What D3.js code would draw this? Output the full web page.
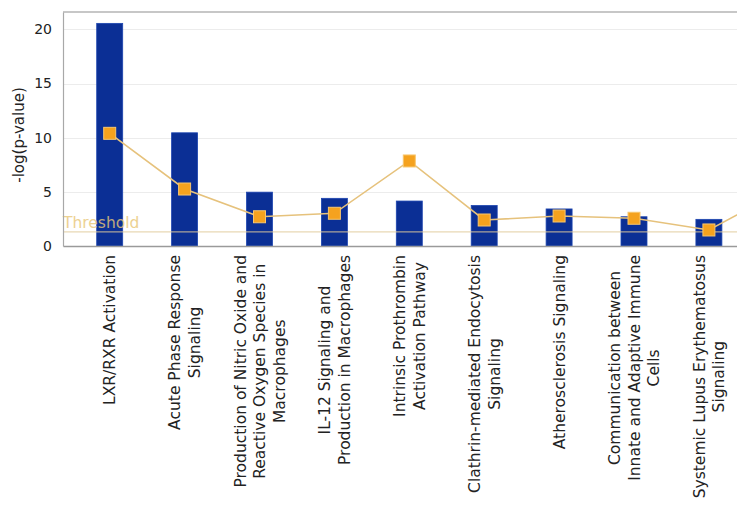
<!DOCTYPE html>
<html>
<head>
<meta charset="utf-8">
<script src="https://cdn.jsdelivr.net/npm/d3@7"></script>
<style>
  html, body { margin: 0; padding: 0; background: #fff; }
  svg { display: block; }
  text { font-family: "DejaVu Sans", Verdana, sans-serif; }
</style>
</head>
<body>
<svg id="chart" width="737" height="505"></svg>
<script>
// ---- data ----
const categories = [
  ["LXR/RXR Activation"],
  ["Acute Phase Response", "Signaling"],
  ["Production of Nitric Oxide and", "Reactive Oxygen Species in", "Macrophages"],
  ["IL-12 Signaling and", "Production in Macrophages"],
  ["Intrinsic Prothrombin", "Activation Pathway"],
  ["Clathrin-mediated Endocytosis", "Signaling"],
  ["Atherosclerosis Signaling"],
  ["Communication between", "Innate and Adaptive Immune", "Cells"],
  ["Systemic Lupus Erythematosus", "Signaling"],
  [""] // next pathway, beyond the right edge of the picture
];
const pValues = [20.55, 10.45, 4.97, 4.4, 4.15, 3.74, 3.42, 2.7, 2.46, 0];
const ratioValues = [10.4, 5.26, 2.7, 3.02, 7.85, 2.4, 2.77, 2.56, 1.48, 5.2];
const yTicks = [0, 5, 10, 15, 20];
const threshold = 1.3;
const yTitle = "-log(p-value)";
const thresholdLabel = "Threshold";

// ---- layout ----
const svg = d3.select("#chart");
const mLeft = 63, mTop = 12, mBottom = 246;
const ids = categories.map((c, i) => i);

const x = d3.scaleBand().domain(ids)
  .range([mLeft, mLeft + 74.9 * (ids.length - 0.653 + 0.9)])
  .paddingInner(0.653).paddingOuter(0.45);
const y = d3.scaleLinear().domain([0, 21.6]).range([mBottom, mTop]);

// gridlines
svg.append("g").selectAll("line").data(yTicks.filter(t => t > 0)).join("line")
  .attr("x1", mLeft).attr("x2", 737)
  .attr("y1", d => Math.round(y(d)) + 0.5).attr("y2", d => Math.round(y(d)) + 0.5)
  .attr("stroke", "#ececec").attr("stroke-width", 1.2);

// top border
svg.append("line").attr("x1", mLeft).attr("x2", 737)
  .attr("y1", mTop).attr("y2", mTop)
  .attr("stroke", "#b4b4b4").attr("stroke-width", 1.5);

// bars
svg.append("g").selectAll("rect").data(pValues).join("rect")
  .attr("x", (d, i) => x(i))
  .attr("width", x.bandwidth())
  .attr("y", d => y(d))
  .attr("height", d => mBottom - y(d))
  .attr("fill", "#0b2f95")
  .attr("stroke", "#1d45b0").attr("stroke-width", 0.8);

// threshold line and label
svg.append("line").attr("x1", mLeft).attr("x2", 737)
  .attr("y1", y(threshold)).attr("y2", y(threshold))
  .attr("stroke", "#e2cc9c").attr("stroke-width", 1.2).attr("opacity", 0.75);
svg.append("text").attr("x", mLeft).attr("y", y(threshold) - 4)
  .attr("font-size", 15.5).attr("fill", "#e9c777").attr("opacity", 0.8)
  .text(thresholdLabel);

// ratio line
const line = d3.line().x((d, i) => x(i) + x.bandwidth() / 2).y(d => y(d));
svg.append("path").datum(ratioValues).attr("d", line)
  .attr("fill", "none").attr("stroke", "#e6c27c").attr("stroke-width", 1.6);
svg.append("g").selectAll("rect").data(ratioValues).join("rect")
  .attr("x", (d, i) => x(i) + x.bandwidth() / 2 - 6)
  .attr("y", d => y(d) - 6)
  .attr("width", 12).attr("height", 12)
  .attr("fill", "#f5a21e").attr("stroke", "#f7c66e").attr("stroke-width", 1);

// axes
const yAxis = d3.axisLeft(y).tickValues(yTicks).tickSize(0).tickPadding(11);
const gy = svg.append("g").attr("transform", `translate(${mLeft},0)`).call(yAxis);
gy.select(".domain").attr("stroke", "#a8a8a8").attr("stroke-width", 1.2);
gy.selectAll("text").attr("font-size", 14).attr("fill", "#222")
  .attr("font-family", '"DejaVu Sans", Verdana, sans-serif');

const xAxis = d3.axisBottom(x).tickSize(0).tickFormat(() => "");
const gx = svg.append("g").attr("transform", `translate(0,${mBottom})`).call(xAxis);
gx.select(".domain").attr("stroke", "#9a9a9a").attr("stroke-width", 1.5);

// category labels (rotated, multi-line, centred)
const lh = 19.5;
const lab = svg.append("g").selectAll("g").data(categories).join("g")
  .attr("transform", (d, i) => `translate(${x(i) + x.bandwidth() / 2},255) rotate(-90)`);
lab.each(function(lines) {
  const t = d3.select(this).append("text")
    .attr("text-anchor", "middle").attr("font-size", 15.5).attr("fill", "#222");
  lines.forEach((s, j) => {
    t.append("tspan").attr("x", 0)
      .attr("y", (j - (lines.length - 1) / 2) * lh)
      .attr("dy", "0.36em").text(s);
  });
});
// anchor labels at the end (top) while keeping lines centred on each other
lab.each(function() {
  const t = d3.select(this).select("text");
  const bb = t.node().getBBox();
  t.attr("transform", `translate(${-(bb.x + bb.width)},0)`);
});

// y title
svg.append("text")
  .attr("transform", `translate(24,${(mTop + mBottom) / 2 + 6}) rotate(-90)`)
  .attr("text-anchor", "middle").attr("font-size", 15).attr("fill", "#222")
  .text(yTitle);
</script>
</body>
</html>
